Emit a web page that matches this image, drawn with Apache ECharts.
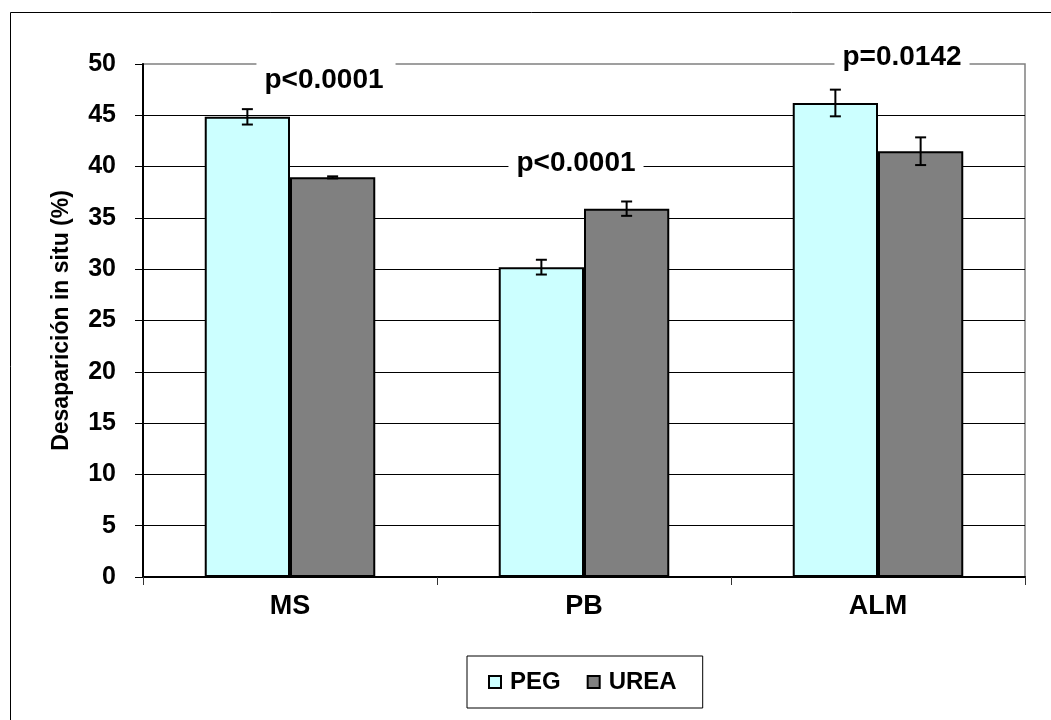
<!DOCTYPE html>
<html>
<head>
<meta charset="utf-8">
<script src="https://cdn.jsdelivr.net/npm/echarts@6/dist/echarts.min.js"></script>
<style>
html,body{margin:0;padding:0;background:#fff;}
#chart{width:1051px;height:720px;}
</style>
</head>
<body>
<div id="chart"></div>
<script>
// ---- data ----
var categories = ['MS', 'PB', 'ALM'];
var seriesNames = ['PEG', 'UREA'];
var pegValues = [44.85, 30.2, 46.2];
var pegErrors = [0.75, 0.72, 1.3];
var ureaValues = [38.95, 35.9, 41.5];
var ureaErrors = [0.1, 0.7, 1.35];
var pLabels = ['p<0.0001', 'p<0.0001', 'p=0.0142'];
var pLabelY = [48.4, 40.35, 50.7];
var yTicks = [0, 5, 10, 15, 20, 25, 30, 35, 40, 45, 50];

var FONT = 'Liberation Sans, Arial, sans-serif';
var chart = echarts.init(document.getElementById('chart'), null, {renderer: 'canvas'});

function errData(vals, errs) {
  return vals.map(function (v, i) { return [i, v, errs[i]]; });
}
function errRender(sign) {
  return function (params, api) {
    var idx = api.value(0), v = api.value(1), e = api.value(2);
    var band = api.size([1, 0])[0];
    var x = api.coord([idx, v])[0] + sign * band * 0.145;
    var yHi = api.coord([idx, v + e])[1];
    var yLo = api.coord([idx, v - e])[1];
    var cap = 5.5;
    var st = {stroke: '#000', lineWidth: 2};
    return {
      type: 'group',
      children: [
        {type: 'line', shape: {x1: x, y1: yHi, x2: x, y2: yLo}, style: st},
        {type: 'line', shape: {x1: x - cap, y1: yHi, x2: x + cap, y2: yHi}, style: st},
        {type: 'line', shape: {x1: x - cap, y1: yLo, x2: x + cap, y2: yLo}, style: st}
      ]
    };
  };
}

var labelOffsets = [[36, 0], [-8, 0], [24, 0]];
var labelPads = [[8, 12, 4, 8], [2, 8, 2, 8], [2, 8, 2, 8]];

var option = {
  backgroundColor: '#fff',
  animation: false,
  graphic: [{
    type: 'rect', left: 8, top: 10, z: -10,
    shape: {width: 1200, height: 900},
    style: {fill: 'none', stroke: '#000', lineWidth: 1}
  }],
  grid: {
    left: 143, top: 64, right: 26, bottom: 143,
    show: true, borderColor: '#808080', borderWidth: 1.5, backgroundColor: '#fff'
  },
  legend: {
    data: seriesNames,
    left: 467, top: 656,
    orient: 'horizontal',
    padding: [14, 26, 14, 21],
    borderColor: '#000', borderWidth: 1,
    itemWidth: 20, itemHeight: 12, itemGap: 26,
    icon: 'path://M0,0L12,0L12,12L0,12Z',
    itemStyle: {borderColor: '#000', borderWidth: 2},
    textStyle: {fontFamily: FONT, fontWeight: 'bold', fontSize: 24, color: '#000'}
  },
  xAxis: {
    type: 'category',
    data: categories,
    axisLine: {lineStyle: {color: '#000', width: 2}},
    axisTick: {show: true, length: 8, lineStyle: {color: '#333', width: 1}},
    axisLabel: {margin: 16, fontFamily: FONT, fontWeight: 'bold', fontSize: 27, color: '#000'},
    splitLine: {show: false}
  },
  yAxis: {
    type: 'value',
    min: yTicks[0], max: yTicks[yTicks.length - 1], interval: yTicks[1] - yTicks[0],
    name: 'Desaparición in situ (%)',
    nameLocation: 'middle',
    nameGap: 70,
    nameRotate: 90,
    nameTextStyle: {fontFamily: FONT, fontWeight: 'bold', fontSize: 23, color: '#000'},
    axisLine: {show: true, lineStyle: {color: '#000', width: 2}},
    axisTick: {show: true, length: 8, lineStyle: {color: '#000', width: 1}},
    axisLabel: {margin: 27, fontFamily: FONT, fontWeight: 'bold', fontSize: 25, color: '#000'},
    splitLine: {show: true, showMaxLine: false, lineStyle: {color: '#000', width: 1}}
  },
  series: [
    {
      name: 'PEG', type: 'bar', data: pegValues,
      barWidth: '29%', barGap: '0%',
      itemStyle: {color: '#CCFFFF', borderColor: '#000', borderWidth: 2}
    },
    {
      name: 'UREA', type: 'bar', data: ureaValues,
      barWidth: '29%', barGap: '0%',
      itemStyle: {color: '#808080', borderColor: '#000', borderWidth: 2}
    },
    {
      type: 'custom', name: 'errPEG', data: errData(pegValues, pegErrors),
      renderItem: errRender(-1), z: 5, silent: true
    },
    {
      type: 'custom', name: 'errUREA', data: errData(ureaValues, ureaErrors),
      renderItem: errRender(1), z: 5, silent: true
    },
    {
      type: 'scatter', name: 'pvals', symbolSize: 0, z: 6, silent: true, clip: false,
      itemStyle: {opacity: 1},
      data: pLabels.map(function (t, i) {
        return {
          value: [i, pLabelY[i]],
          label: {
            show: true, position: 'inside', formatter: t,
            offset: labelOffsets[i],
            fontFamily: FONT, fontWeight: 'bold', fontSize: 28, color: '#000',
            backgroundColor: '#fff', padding: labelPads[i]
          }
        };
      })
    }
  ]
};
chart.setOption(option);
</script>
</body>
</html>
